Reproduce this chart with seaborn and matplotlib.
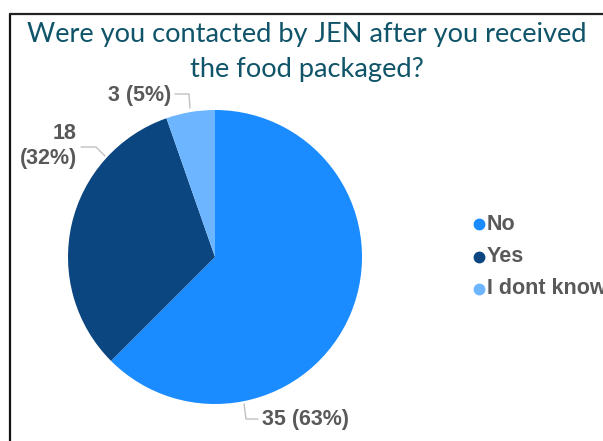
import matplotlib
matplotlib.use("Agg")
import matplotlib.pyplot as plt
import seaborn as sns
import numpy as np
from matplotlib.lines import Line2D

sns.set_style("white")
plt.rcParams["font.family"] = ["Liberation Sans", "DejaVu Sans"]

# Survey responses
categories = ["No", "Yes", "I dont know"]
counts = [35, 18, 3]
colors = ["#1a8cff", "#0b4680", "#6db6ff"]

title_lines = ["Were you contacted by JEN after you received",
               "the food packaged?"]

W, H = 603, 441
fig = plt.figure(figsize=(W / 100, H / 100), dpi=100)

# pie area: centre (215, 257) px, radius 147 px
cx, cy, r = 215, 257, 147
ax = fig.add_axes([(cx - r) / W, (H - cy - r) / H, 2 * r / W, 2 * r / H])
wedges, _ = ax.pie(counts, colors=colors, startangle=90, counterclock=False,
                   radius=1.0, wedgeprops=dict(linewidth=0))
ax.set_xlim(-1, 1)
ax.set_ylim(-1, 1)
ax.set_aspect("equal")
ax.axis("off")

total = sum(counts)
labels = [f"{c} ({int(100 * c / total + 0.5)}%)" for c in counts]


def d(px, py):
    """pixel position -> pie data coordinates"""
    return (px - cx) / r, (cy - py) / r


lab_color = "#595959"
lead_color = "#c0c0c0"
fs = 15.5
lab_kw = dict(fontsize=fs, fontweight="bold", color=lab_color, clip_on=False)

# No
pts = [d(244, 404), d(246, 419), d(258, 419)]
ax.plot(*zip(*pts), color=lead_color, lw=1, clip_on=False)
ax.text(*d(262, 419), labels[0], ha="left", va="center", **lab_kw)

# Yes
pts = [d(105, 156), d(96, 147), d(81, 147)]
ax.plot(*zip(*pts), color=lead_color, lw=1, clip_on=False)
n, pct = labels[1].split(" ")
ax.text(*d(77, 146), f"{n}\n{pct}", ha="right", va="center",
        linespacing=1.2, **lab_kw)

# I dont know
pts = [d(190, 108), d(189, 94), d(175, 94)]
ax.plot(*zip(*pts), color=lead_color, lw=1, clip_on=False)
ax.text(*d(171, 96), labels[2], ha="right", va="center", **lab_kw)

# legend
for i, (cat, col) in enumerate(zip(categories, colors)):
    y = 1 - (224 + 32.5 * i) / H
    fig.add_artist(Line2D([479 / W], [y], marker="o", markersize=7.5,
                          color=col, linestyle="none"))
    fig.text(487 / W, y, cat, ha="left", va="center", fontsize=fs,
             fontweight="bold", color=lab_color)

# title
title_color = "#0f5469"
for line, base in zip(title_lines, [42, 77]):
    fig.text(307 / W, 1 - base / H, line, ha="center", va="baseline",
             fontsize=19.6, color=title_color, family=["Lato", "DejaVu Sans"])

# frame edges
fig.add_artist(Line2D([9.5 / W, 9.5 / W], [1 - 13.5 / H, 0], color="#111111", lw=1.6))
fig.add_artist(Line2D([9.5 / W, 1], [1 - 13.5 / H, 1 - 13.5 / H], color="#222222", lw=1.6))

fig.savefig("out.png", dpi=100)
